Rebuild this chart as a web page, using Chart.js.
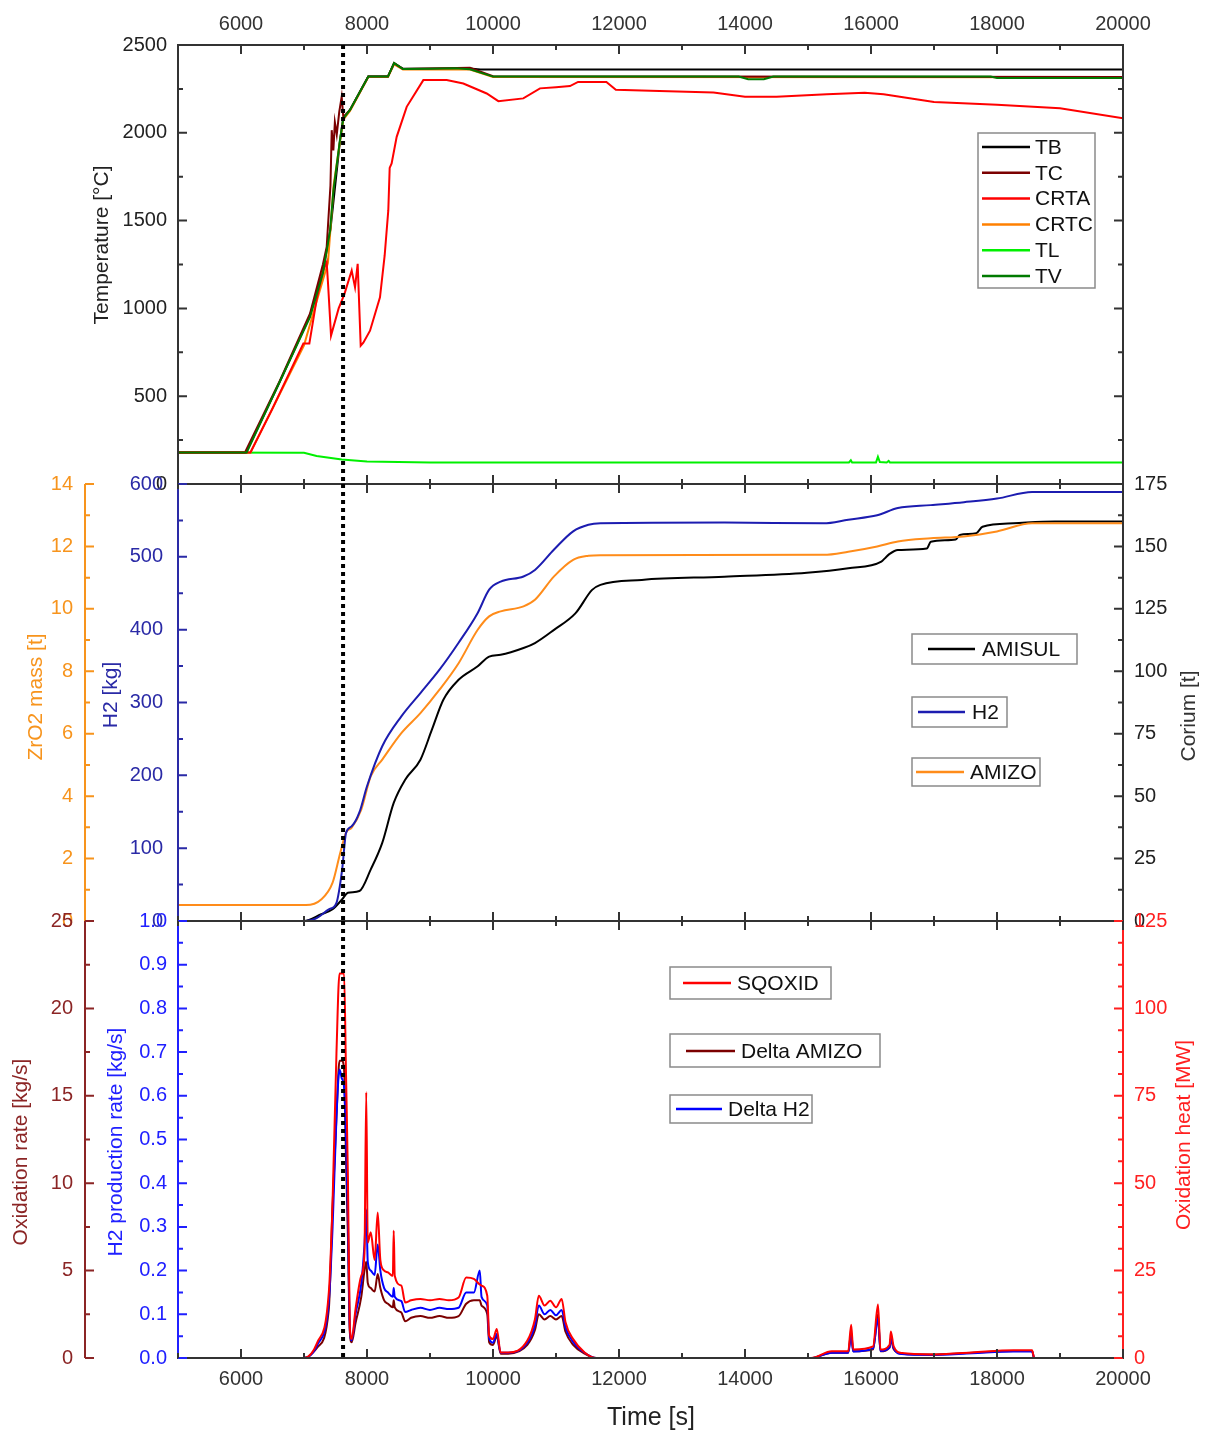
<!DOCTYPE html>
<html>
<head>
<meta charset="utf-8">
<script src="https://cdn.jsdelivr.net/npm/chart.js@4.4.1/dist/chart.umd.min.js"></script>
<style>
body { margin: 0; background: #fff; width: 1205px; height: 1434px; position: relative; overflow: hidden; }
canvas { position: absolute; left: 0; }
</style>
</head>
<body>
<canvas id="tempChart" width="1205" height="507" style="top:0px"></canvas>
<canvas id="massChart" width="1205" height="491" style="top:457px"></canvas>
<canvas id="rateChart" width="1205" height="537" style="top:897px"></canvas>
<script>
// ---- shared axis ticks ----
const timeTicks = [6000, 8000, 10000, 12000, 14000, 16000, 18000, 20000];
const markerTime = 7620;

// ---- panel 1: temperatures [°C] ----
const tempTicks = [0, 500, 1000, 1500, 2000, 2500];
const tbTime = [5000, 6080, 6600, 7090, 7300, 7420, 7570, 7620, 7730, 8020, 8330, 8430, 8570, 9630, 9800, 20000];
const tbTemp = [180, 180, 570, 955, 1210, 1450, 1950, 2080, 2130, 2320, 2320, 2395, 2365, 2366, 2360, 2360];
const tcTime = [5000, 6063, 6619, 7095, 7300, 7360, 7420, 7440, 7466, 7490, 7520, 7560, 7598, 7624, 7730, 8021, 8333, 8430, 8571, 9635, 9900, 10000, 20000];
const tcTemp = [180, 180, 590, 970, 1250, 1350, 1700, 2015, 1900, 2060, 1990, 2120, 2205, 2090, 2130, 2320, 2320, 2397, 2363, 2370, 2335, 2322, 2318];
const crtaTime = [5000, 6150, 6500, 6990, 7085, 7200, 7307, 7360, 7380, 7429, 7550, 7640, 7757, 7810, 7852, 7900, 7942, 8048, 8206, 8280, 8338, 8360, 8391, 8471, 8630, 8894, 9265, 9529, 9900, 10085, 10481, 10746, 11000, 11222, 11350, 11800, 11950, 12500, 13500, 14000, 14500, 15300, 15900, 16200, 17000, 18000, 19000, 20000];
const crtaTemp = [180, 180, 430, 800, 800, 1050, 1216, 1263, 1150, 845, 1000, 1080, 1216, 1120, 1254, 788, 805, 873, 1063, 1300, 1558, 1800, 1825, 1977, 2148, 2300, 2300, 2281, 2224, 2180, 2196, 2253, 2260, 2266, 2290, 2290, 2245, 2240, 2230, 2205, 2205, 2220, 2228, 2220, 2175, 2160, 2140, 2083];
const crtcTime = [5000, 6150, 6500, 7000, 7250, 7380, 7430, 7470, 7571, 7624, 7730, 8021, 8333, 8430, 8571, 9635, 10000, 20000];
const crtcTemp = [180, 180, 430, 790, 1100, 1260, 1500, 1700, 1950, 2075, 2125, 2318, 2318, 2390, 2360, 2360, 2318, 2316];
const tlTime = [5000, 7000, 7200, 7600, 8000, 9000, 15650, 15680, 15700, 16080, 16110, 16140, 16250, 16280, 16300, 20000];
const tlTemp = [180, 178, 160, 140, 128, 123, 123, 135, 123, 123, 155, 125, 123, 132, 123, 122];
const tvTime = [5000, 6090, 6600, 7095, 7300, 7413, 7466, 7571, 7624, 7730, 8021, 8333, 8430, 8571, 9000, 9400, 9635, 10000, 13900, 14050, 14300, 14450, 17900, 18000, 20000];
const tvTemp = [180, 180, 571, 950, 1200, 1440, 1670, 1960, 2080, 2130, 2320, 2320, 2397, 2363, 2365, 2368, 2362, 2320, 2320, 2305, 2305, 2320, 2320, 2312, 2312];

// ---- panel 2: masses ----
const zro2Ticks = [0, 2, 4, 6, 8, 10, 12, 14];
const h2MassTicks = [0, 100, 200, 300, 400, 500, 600];
const coriumTicks = [0, 25, 50, 75, 100, 125, 150, 175];
const amisulTime = [5000, 7000, 7273, 7454, 7606, 7697, 7879, 8060, 8242, 8424, 8606, 8848, 9030, 9212, 9454, 9757, 9939, 10121, 10484, 10666, 10969, 11311, 11573, 11705, 12361, 13672, 14983, 15639, 16164, 16230, 16295, 16426, 16885, 16950, 17344, 17410, 17672, 17770, 18262, 18918, 20000];
const amisulMass = [0, 0, 2.7, 4.7, 8.7, 11.3, 12, 20.7, 31.3, 47.3, 56.6, 64.6, 76.6, 88.6, 96.6, 102, 105.9, 106.6, 109.3, 111.3, 116.6, 123.3, 132.6, 134.6, 136.6, 137.9, 139.5, 141.3, 143.9, 145.5, 147, 148.6, 149.2, 151.9, 152.8, 154.6, 155.3, 157.9, 159.3, 160, 160];
const h2Time = [5000, 7030, 7200, 7394, 7515, 7606, 7667, 7757, 7879, 8000, 8242, 8545, 8848, 9151, 9454, 9757, 9939, 10121, 10484, 10666, 10969, 11272, 11515, 11705, 13672, 15246, 15639, 16098, 16426, 16950, 17475, 17999, 18557, 20000];
const h2Mass = [0, 0, 4, 16, 25, 71, 121, 130, 149, 185, 240, 281, 313, 345, 382, 423, 455, 466, 473, 482, 510, 535, 544, 546, 547, 546, 551, 557, 567, 571, 575, 580, 589, 589];
const amizoTime = [5000, 7030, 7273, 7454, 7576, 7667, 7757, 7909, 8060, 8242, 8545, 8848, 9151, 9454, 9757, 9939, 10121, 10484, 10666, 10969, 11272, 11515, 11705, 15246, 15639, 16098, 16426, 16950, 17475, 17999, 18557, 20000];
const amizoMass = [0.51, 0.51, 0.69, 1.23, 2.19, 2.83, 2.99, 3.57, 4.64, 5.17, 6.02, 6.66, 7.41, 8.26, 9.33, 9.76, 9.92, 10.08, 10.29, 11.04, 11.57, 11.7, 11.72, 11.73, 11.83, 12.0, 12.16, 12.26, 12.32, 12.48, 12.74, 12.74];

// ---- panel 3: rates ----
const oxRateTicks = [0, 5, 10, 15, 20, 25];
const h2RateTicks = [0, 0.1, 0.2, 0.3, 0.4, 0.5, 0.6, 0.7, 0.8, 0.9, 1.0];
const oxHeatTicks = [0, 25, 50, 75, 100, 125];
const rateTime = [5000, 7000, 7212, 7394, 7454, 7515, 7564, 7600, 7636, 7667, 7697, 7727, 7757, 7818, 7909, 7960, 7988, 8012, 8060, 8121, 8170, 8212, 8272, 8333, 8410, 8424, 8440, 8545, 8606, 8700, 8848, 9000, 9151, 9300, 9454, 9575, 9697, 9790, 9818, 9909, 9939, 10000, 10060, 10121, 10242, 10545, 10666, 10727, 10818, 10909, 11000, 11090, 11151, 11272, 11454, 11636, 15049, 15377, 15639, 15685, 15718, 16033, 16111, 16150, 16295, 16315, 16360, 16492, 16950, 17606, 18262, 18557, 18590, 20000];
const sqoxidHeat = [0, 0, 4.5, 18.8, 45, 87, 110, 110, 110, 81, 52, 9.2, 5.4, 14, 23.5, 30, 76, 33, 36, 28, 41.6, 28, 25, 24.5, 23.5, 36.4, 23.5, 20.7, 15.9, 16.5, 16.9, 16.5, 16.9, 16.5, 17.3, 23, 22.6, 21, 20.7, 17.8, 6.4, 5.4, 8.3, 1.6, 1.6, 5, 11.1, 17.8, 15, 16.4, 14.5, 16.9, 10.2, 5.4, 1.6, 0, 0, 1.9, 1.9, 9.5, 2.4, 3.3, 15.3, 2.4, 3.8, 7.6, 3.3, 1.4, 1, 1.6, 2.2, 2.2, 0, 0];
const deltaAmizoRate = [0, 0, 0.6, 2.8, 8.8, 13.8, 17, 17, 16.5, 11.3, 7, 1.5, 0.9, 2, 3.5, 5, 5.5, 4.3, 4, 3.8, 4.8, 4, 3.3, 3.1, 2.9, 3.3, 2.9, 2.6, 2.1, 2.3, 2.4, 2.3, 2.4, 2.3, 2.4, 3.1, 3.3, 3.3, 3, 2.5, 0.9, 0.75, 1.25, 0.25, 0.25, 0.75, 1.6, 2.5, 2.2, 2.4, 2.2, 2.4, 1.5, 0.75, 0.25, 0, 0, 0.3, 0.3, 1.5, 0.38, 0.5, 2.5, 0.38, 0.6, 1.1, 0.5, 0.25, 0.2, 0.3, 0.4, 0.4, 0, 0];
const deltaH2Rate = [0, 0, 0.03, 0.13, 0.3, 0.55, 0.66, 0.64, 0.62, 0.5, 0.32, 0.07, 0.04, 0.1, 0.17, 0.26, 0.34, 0.22, 0.2, 0.19, 0.26, 0.2, 0.16, 0.15, 0.14, 0.16, 0.14, 0.13, 0.105, 0.11, 0.115, 0.11, 0.115, 0.112, 0.115, 0.15, 0.15, 0.2, 0.14, 0.12, 0.045, 0.035, 0.055, 0.012, 0.012, 0.035, 0.075, 0.12, 0.1, 0.11, 0.098, 0.11, 0.07, 0.037, 0.012, 0, 0, 0.012, 0.012, 0.05, 0.015, 0.022, 0.09, 0.016, 0.025, 0.045, 0.022, 0.009, 0.007, 0.011, 0.015, 0.015, 0, 0];

const FONT = "'Liberation Sans', Arial, sans-serif";
Chart.defaults.font.family = FONT;
Chart.defaults.font.size = 20;

function pts(xs, ys) { return xs.map((x, i) => ({ x: x, y: ys[i] })); }

function line(label, xs, ys, color, axis, order, smooth) {
    return { label: label, data: pts(xs, ys), borderColor: color, backgroundColor: color, borderWidth: 2,
        pointRadius: 0, yAxisID: axis, order: order, cubicInterpolationMode: smooth ? 'monotone' : 'default', tension: 0 };
}

function xScale(position, labels, height) {
    return {
        type: 'linear', position: position, min: 5000, max: 20000,
        afterBuildTicks: s => { s.ticks = timeTicks.map(v => ({ value: v })); },
        ticks: { display: labels, color: '#333', padding: 9, maxRotation: 0, autoSkip: false, callback: v => String(v) },
        grid: { display: false, drawTicks: false }, border: { display: false },
        afterFit: s => { s.height = height; }
    };
}

function yScale(o) {
    return {
        type: 'linear', position: o.position, min: o.ticks[0], max: o.ticks[o.ticks.length - 1], weight: o.weight || 0,
        afterBuildTicks: s => { s.ticks = o.ticks.map(v => ({ value: v })); },
        ticks: { color: o.color, padding: o.pad, autoSkip: false, callback: v => o.dec ? v.toFixed(o.dec) : String(v) },
        grid: { display: false, drawTicks: false }, border: { display: false },
        afterFit: s => { s.width = o.width; }
    };
}

// frame, inward tick marks, coloured spines, marker line, boxed legends, axis titles
const decor = {
    id: 'decor',
    afterDatasetsDraw(chart, args, o) {
        const { ctx, chartArea: a } = chart;
        const dy = o.top;
        ctx.save();
        ctx.lineWidth = 2;
        ctx.strokeStyle = '#333';
        ctx.strokeRect(a.left, a.top, a.right - a.left, a.bottom - a.top);

        for (const m of o.marks) {
            const s = chart.scales[m.scale];
            const base = { sRight: s.right, sLeft: s.left, aRight: a.right, aTop: a.top, aBottom: a.bottom }[m.at];
            ctx.strokeStyle = m.color;
            ctx.lineWidth = 2;
            ctx.beginPath();
            if (s.axis === 'y') { ctx.moveTo(base, a.top); ctx.lineTo(base, a.bottom); }
            for (let v = s.min; v <= s.max + 1e-9; v += m.minor) {
                const major = Math.abs(v / m.major - Math.round(v / m.major)) < 1e-6;
                const len = (major ? 9 : 5) * m.dir;
                const p = s.getPixelForValue(v);
                if (s.axis === 'y') { ctx.moveTo(base, p); ctx.lineTo(base + len, p); }
                else { ctx.moveTo(p, base); ctx.lineTo(p, base + len); }
            }
            ctx.stroke();
        }

        const mx = chart.scales.x.getPixelForValue(markerTime);
        ctx.setLineDash([4, 4]);
        ctx.lineWidth = 4;
        ctx.strokeStyle = '#000';
        ctx.beginPath(); ctx.moveTo(mx, a.top); ctx.lineTo(mx, a.bottom); ctx.stroke();
        ctx.setLineDash([]);

        ctx.font = '21px ' + FONT;
        ctx.textBaseline = 'middle';
        ctx.textAlign = 'left';
        for (const L of o.legends) {
            ctx.fillStyle = '#fff';
            ctx.fillRect(L.x, L.y - dy, L.w, L.h);
            ctx.strokeStyle = '#8a8a8a';
            ctx.lineWidth = 1.5;
            ctx.strokeRect(L.x, L.y - dy, L.w, L.h);
            L.rows.forEach((idx, i) => {
                const ds = chart.data.datasets[idx];
                const y = L.first + i * (L.step || 0) - dy;
                ctx.strokeStyle = ds.borderColor;
                ctx.lineWidth = 2.5;
                ctx.beginPath(); ctx.moveTo(L.l0, y); ctx.lineTo(L.l1, y); ctx.stroke();
                ctx.fillStyle = '#111';
                ctx.fillText(ds.label, L.tx, y + 1);
            });
        }

        ctx.textAlign = 'center';
        for (const t of o.titles) {
            ctx.save();
            ctx.translate(t.x, t.y - dy);
            if (t.rot) ctx.rotate(-Math.PI / 2);
            ctx.fillStyle = t.color;
            ctx.font = (t.size || 21) + 'px ' + FONT;
            ctx.fillText(t.text, 0, 0);
            ctx.restore();
        }
        ctx.restore();
    }
};

const base = { responsive: false, animation: false, devicePixelRatio: 1, events: [] };

// ---------------- panel 1 ----------------
new Chart(document.getElementById('tempChart'), {
    type: 'line',
    data: { datasets: [
        line('TB', tbTime, tbTemp, '#000000', 'y', 4),
        line('TC', tcTime, tcTemp, '#7b0000', 'y', 2),
        line('CRTA', crtaTime, crtaTemp, '#ff0000', 'y', 1),
        line('CRTC', crtcTime, crtcTemp, '#ff8000', 'y', 3),
        line('TL', tlTime, tlTemp, '#00f000', 'y', 5),
        line('TV', tvTime, tvTemp, '#007a00', 'y', 0)
    ] },
    options: Object.assign({}, base, {
        layout: { padding: { left: 0, right: 82, top: 0, bottom: 17 } },
        plugins: {
            legend: { display: false }, tooltip: { enabled: false },
            decor: {
                top: 0,
                marks: [
                    { scale: 'y', at: 'sRight', dir: 1, minor: 250, major: 500, color: '#333' },
                    { scale: 'y', at: 'aRight', dir: -1, minor: 250, major: 500, color: '#333' },
                    { scale: 'x', at: 'aTop', dir: 1, minor: 1000, major: 2000, color: '#333' },
                    { scale: 'x', at: 'aBottom', dir: -1, minor: 1000, major: 2000, color: '#333' }
                ],
                legends: [{ x: 978, y: 133, w: 117, h: 155, first: 147, step: 25.8, l0: 982, l1: 1030, tx: 1035, rows: [0, 1, 2, 3, 4, 5] }],
                titles: [{ text: 'Temperature [°C]', x: 102, y: 245, rot: true, color: '#222' }]
            }
        },
        scales: {
            x: xScale('top', true, 45),
            y: yScale({ position: 'left', ticks: tempTicks, color: '#222', pad: 11, width: 178 })
        }
    }),
    plugins: [decor]
});

// ---------------- panel 2 ----------------
new Chart(document.getElementById('massChart'), {
    type: 'line',
    data: { datasets: [
        line('AMISUL', amisulTime, amisulMass, '#000000', 'yCorium', 2, true),
        line('H2', h2Time, h2Mass, '#1c1cb0', 'yH2', 0, true),
        line('AMIZO', amizoTime, amizoMass, '#ff8c1a', 'yZr', 1, true)
    ] },
    options: Object.assign({}, base, {
        layout: { padding: { left: 0, right: 0, top: 13, bottom: 15 } },
        plugins: {
            legend: { display: false }, tooltip: { enabled: false },
            decor: {
                top: 457,
                marks: [
                    { scale: 'yZr', at: 'sRight', dir: 1, minor: 1, major: 2, color: '#f7941d' },
                    { scale: 'yH2', at: 'sRight', dir: 1, minor: 50, major: 100, color: '#2a2aa6' },
                    { scale: 'yCorium', at: 'sLeft', dir: -1, minor: 12.5, major: 25, color: '#333' },
                    { scale: 'x', at: 'aTop', dir: 1, minor: 1000, major: 2000, color: '#333' },
                    { scale: 'x', at: 'aBottom', dir: -1, minor: 1000, major: 2000, color: '#333' }
                ],
                legends: [
                    { x: 912, y: 634, w: 165, h: 30, first: 649, l0: 928, l1: 975, tx: 982, rows: [0] },
                    { x: 912, y: 697, w: 95, h: 30, first: 712, l0: 918, l1: 965, tx: 972, rows: [1] },
                    { x: 912, y: 758, w: 128, h: 28, first: 772, l0: 916, l1: 964, tx: 970, rows: [2] }
                ],
                titles: [
                    { text: 'ZrO2 mass [t]', x: 36, y: 697, rot: true, color: '#f7941d' },
                    { text: 'H2 [kg]', x: 111, y: 695, rot: true, color: '#2a2aa6' },
                    { text: 'Corium [t]', x: 1189, y: 716, rot: true, color: '#333' }
                ]
            }
        },
        scales: {
            x: xScale('bottom', false, 0),
            yH2: yScale({ position: 'left', ticks: h2MassTicks, color: '#2a2aa6', pad: 15, width: 93, weight: 0 }),
            yZr: yScale({ position: 'left', ticks: zro2Ticks, color: '#f7941d', pad: 12, width: 85, weight: 1 }),
            yCorium: yScale({ position: 'right', ticks: coriumTicks, color: '#222', pad: 11, width: 82 })
        }
    }),
    plugins: [decor]
});

// ---------------- panel 3 ----------------
new Chart(document.getElementById('rateChart'), {
    type: 'line',
    data: { datasets: [
        line('SQOXID', rateTime, sqoxidHeat, '#ff0000', 'yHeat', 0, true),
        line('Delta AMIZO', rateTime, deltaAmizoRate, '#7b0000', 'yOx', 2, true),
        line('Delta H2', rateTime, deltaH2Rate, '#0000ff', 'yRate', 1, true)
    ] },
    options: Object.assign({}, base, {
        layout: { padding: { left: 0, right: 0, top: 15, bottom: 0 } },
        plugins: {
            legend: { display: false }, tooltip: { enabled: false },
            decor: {
                top: 897,
                marks: [
                    { scale: 'yOx', at: 'sRight', dir: 1, minor: 2.5, major: 5, color: '#8b2525' },
                    { scale: 'yRate', at: 'sRight', dir: 1, minor: 0.05, major: 0.1, color: '#2020ff' },
                    { scale: 'yHeat', at: 'sLeft', dir: -1, minor: 6.25, major: 25, color: '#ff2020' },
                    { scale: 'x', at: 'aTop', dir: 1, minor: 1000, major: 2000, color: '#333' },
                    { scale: 'x', at: 'aBottom', dir: -1, minor: 1000, major: 2000, color: '#333' }
                ],
                legends: [
                    { x: 670, y: 967, w: 161, h: 32, first: 983, l0: 683, l1: 731, tx: 737, rows: [0] },
                    { x: 670, y: 1034, w: 210, h: 33, first: 1051, l0: 686, l1: 735, tx: 741, rows: [1] },
                    { x: 670, y: 1095, w: 142, h: 28, first: 1109, l0: 676, l1: 722, tx: 728, rows: [2] }
                ],
                titles: [
                    { text: 'Oxidation rate [kg/s]', x: 21, y: 1152, rot: true, color: '#8b2525' },
                    { text: 'H2 production rate [kg/s]', x: 116, y: 1142, rot: true, color: '#2020ff' },
                    { text: 'Oxidation heat [MW]', x: 1184, y: 1135, rot: true, color: '#ff2020' },
                    { text: 'Time [s]', x: 651, y: 1418, rot: false, color: '#222', size: 25 }
                ]
            }
        },
        scales: {
            x: xScale('bottom', true, 76),
            yRate: yScale({ position: 'left', ticks: h2RateTicks, color: '#2020ff', pad: 11, width: 93, weight: 0, dec: 1 }),
            yOx: yScale({ position: 'left', ticks: oxRateTicks, color: '#8b2525', pad: 12, width: 85, weight: 1 }),
            yHeat: yScale({ position: 'right', ticks: oxHeatTicks, color: '#ff2020', pad: 11, width: 82 })
        }
    }),
    plugins: [decor]
});
</script>
</body>
</html>
